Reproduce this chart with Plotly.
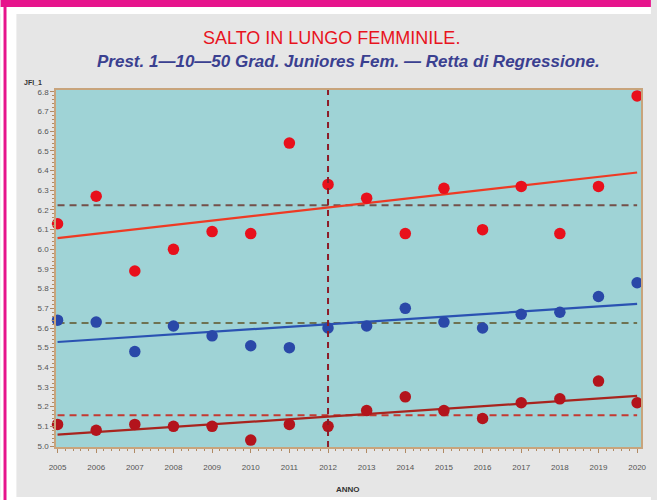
import numpy as np
import plotly.graph_objects as go

# Anni e prestazioni (metri): 1a, 10a e 50a della graduatoria Juniores femminile
anni = list(range(2005, 2021))
prest_1 = [6.13, 6.27, 5.89, 6.00, 6.09, 6.08, 6.54, 6.33,
           6.26, 6.08, 6.31, 6.10, 6.32, 6.08, 6.32, 6.78]
prest_10 = [5.64, 5.63, 5.48, 5.61, 5.56, 5.51, 5.50, 5.60,
            5.61, 5.70, 5.63, 5.60, 5.67, 5.68, 5.76, 5.83]
prest_50 = [5.11, 5.08, 5.11, 5.10, 5.10, 5.03, 5.11, 5.10,
            5.18, 5.25, 5.18, 5.14, 5.22, 5.24, 5.33, 5.22]
anno_rif = 2012

titolo = "SALTO IN LUNGO FEMMINILE."
sottotitolo = "Prest. 1\u201410\u201450 Grad. Juniores Fem. \u2014 Retta di Regressione."

# geometry of the plotting area (pixels)
W, H = 657, 500
ML, MR, MT, MB = 56, 10, 90, 53
PW, PH = W - ML - MR, H - MT - MB


def fx(px):
    return (px - ML) / PW


def fy(py):
    return (H - MB - py) / PH


serie = [
    (prest_1, "#e8101c", "#ee3a24", "#74504a"),
    (prest_10, "#2a48a8", "#2a52b2", "#6e7252"),
    (prest_50, "#b3141c", "#a8241e", "#c43a32"),
]

fig = go.Figure()
x = np.array(anni, dtype=float)

# mean lines (dashed)
for vals, mcol, lcol, dcol in serie:
    m = float(np.mean(vals))
    fig.add_trace(go.Scatter(x=[x.min(), x.max()], y=[m, m], mode="lines",
                             line=dict(color=dcol, width=2, dash="7px,5px"),
                             hoverinfo="skip", showlegend=False))

# reference year
fig.add_shape(type="line", xref="x", yref="paper", x0=anno_rif, x1=anno_rif,
              y0=0, y1=1, line=dict(color="#8c1c28", width=2, dash="6px,5px"))

# regression lines and points
for vals, mcol, lcol, dcol in serie:
    b, a = np.polyfit(x, np.array(vals), 1)
    xr = np.array([x.min(), x.max()])
    fig.add_trace(go.Scatter(x=xr, y=a + b * xr, mode="lines",
                             line=dict(color=lcol, width=2.2),
                             hoverinfo="skip", showlegend=False))
for vals, mcol, lcol, dcol in serie:
    fig.add_trace(go.Scatter(x=anni, y=vals, mode="markers", cliponaxis=False,
                             marker=dict(color=mcol, size=11.5),
                             showlegend=False))

# outer frame: white margins and magenta edges
frame = [
    (0, 16, 0, H, "#ffffff"),
    (0, W, 0, 14, "#ffffff"),
    (0, W, 497, H, "#ffffff"),
    (0, W, 0, 7, "#e6148c"),
    (3, 6, 0, H, "#e6148c"),
]
for x0, x1, y0, y1, c in frame:
    fig.add_shape(type="rect", xref="paper", yref="paper",
                  x0=fx(x0), x1=fx(x1), y0=fy(y1), y1=fy(y0),
                  line=dict(width=0), fillcolor=c, layer="below")

fig.add_annotation(text=titolo, xref="paper", yref="paper",
                   x=fx(334), y=fy(38), xanchor="center", yanchor="middle",
                   showarrow=False,
                   font=dict(family="Liberation Sans, Arial", size=18, color="#e8141e"))
fig.add_annotation(text="<b><i>" + sottotitolo + "</i></b>", xref="paper", yref="paper",
                   x=fx(351), y=fy(61), xanchor="center", yanchor="middle",
                   showarrow=False,
                   font=dict(family="Liberation Sans, Arial", size=17, color="#3a4090"))
fig.add_annotation(text="<b>JFI_1</b>", xref="paper", yref="paper",
                   x=fx(22), y=fy(82), xanchor="left", yanchor="middle",
                   showarrow=False,
                   font=dict(family="Liberation Sans, Arial", size=7, color="#333333"))
fig.add_annotation(text="<b>ANNO</b>", xref="paper", yref="paper",
                   x=fx(351), y=fy(489), xanchor="center", yanchor="middle",
                   showarrow=False,
                   font=dict(family="Liberation Sans, Arial", size=8, color="#333333"))

axis_common = dict(showgrid=False, zeroline=False, showline=True,
                   linecolor="#c8a47c", linewidth=1.5, mirror=True,
                   ticks="outside", ticklen=4, tickcolor="#b08a64",
                   tickfont=dict(family="Liberation Sans, Arial", size=8, color="#555555"))

fig.update_xaxes(range=[2004.96, 2020.1], tickmode="array", tickvals=anni,
                 ticktext=[str(a) for a in anni], ticklabelstandoff=8,
                 minor=dict(ticks="outside", ticklen=2, dtick=0.2, tickcolor="#b08a64"),
                 **axis_common)
fig.update_yaxes(range=[4.995, 6.81], dtick=0.1, tick0=5.0, tickformat=".1f",
                 minor=dict(ticks="outside", ticklen=2, dtick=0.02, tickcolor="#b08a64"),
                 **axis_common)

fig.update_layout(width=W, height=H, margin=dict(l=ML, r=MR, t=MT, b=MB),
                  paper_bgcolor="#e6e6e6", plot_bgcolor="#9fd3d6",
                  showlegend=False)

fig.write_html("out.html")
